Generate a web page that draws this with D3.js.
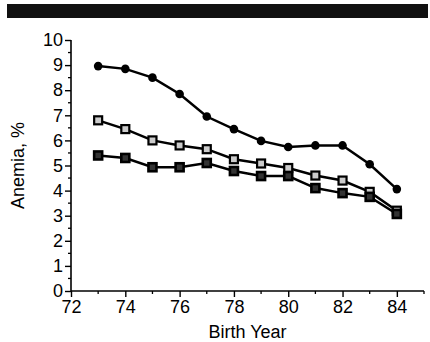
<!DOCTYPE html>
<html>
<head>
<meta charset="utf-8">
<script src="https://cdn.jsdelivr.net/npm/d3@7"></script>
<style>
	body { margin: 0; background: #fff; }
	svg { display: block; font-family: "Liberation Sans", Arial, sans-serif; }
</style>
</head>
<body>
<svg id="plot" width="430" height="342"></svg>
<script>
const YEARS = [73, 74, 75, 76, 77, 78, 79, 80, 81, 82, 83, 84];
const TOP_SERIES = [8.96, 8.85, 8.5, 7.85, 6.95, 6.45, 5.98, 5.74, 5.8, 5.8, 5.05, 4.06];
const OPEN_SERIES = [6.8, 6.45, 6.0, 5.8, 5.65, 5.25, 5.08, 4.9, 4.6, 4.4, 3.95, 3.2];
const FILLED_SERIES = [5.4, 5.3, 4.93, 4.93, 5.1, 4.78, 4.58, 4.58, 4.1, 3.9, 3.75, 3.07];
const X_TICKS = [72, 74, 76, 78, 80, 82, 84];
const Y_TICKS = [0, 1, 2, 3, 4, 5, 6, 7, 8, 9, 10];

function draw() {
	var svg = d3.select('#plot');

	// scanned header bar
	svg.append('rect')
		.attr('x', 7).attr('y', 4).attr('width', 421).attr('height', 14)
		.attr('fill', '#111');

	var x = d3.scaleLinear().domain([72, 85]).range([71, 424]);
	var y = d3.scaleLinear().domain([0, 10]).range([291, 40]);

	// minor ticks
	var minorX = d3.range(73, 86, 2);
	svg.append('g').selectAll('line').data(minorX).enter().append('line')
		.attr('x1', d => x(d)).attr('x2', d => x(d))
		.attr('y1', y(0)).attr('y2', y(0) + 3)
		.attr('stroke', '#000').attr('stroke-width', 1.3);
	var minorY = d3.range(0.5, 10, 1);
	svg.append('g').selectAll('line').data(minorY).enter().append('line')
		.attr('x1', x(72) - 3).attr('x2', x(72))
		.attr('y1', d => y(d)).attr('y2', d => y(d))
		.attr('stroke', '#000').attr('stroke-width', 1.3);

	var xAxis = d3.axisBottom(x).tickValues(X_TICKS).tickSize(6).tickPadding(3);
	var yAxis = d3.axisLeft(y).tickValues(Y_TICKS).tickSize(6).tickPadding(2);

	var gx = svg.append('g')
		.attr('transform', `translate(0, ${y(0)})`)
		.call(xAxis);
	var gy = svg.append('g')
		.attr('transform', `translate(${x(72)}, 0)`)
		.call(yAxis);
	[gx, gy].forEach(g => {
		g.select('.domain').attr('stroke', '#000').attr('stroke-width', 1.6);
		g.selectAll('.tick line').attr('stroke', '#000').attr('stroke-width', 1.4);
		g.selectAll('.tick text').attr('fill', '#000').attr('font-size', 18)
			.attr('font-family', '"Liberation Sans", Arial, sans-serif');
	});
	gx.select('.domain').attr('d', `M${x(72)},0H${x(85)}`);
	gy.select('.domain').attr('d', `M0,${y(10)}V${y(0)}`);

	svg.append('text')
		.attr('x', x(78.5)).attr('y', 338)
		.attr('text-anchor', 'middle').attr('font-size', 18)
		.text('Birth Year');
	svg.append('text')
		.attr('transform', `translate(24, ${y(5)}) rotate(-90)`)
		.attr('text-anchor', 'middle').attr('font-size', 18)
		.text('Anemia, %');

	var line = d3.line().x((d, i) => x(YEARS[i])).y(d => y(d));
	[TOP_SERIES, OPEN_SERIES, FILLED_SERIES].forEach(s => {
		svg.append('path').attr('d', line(s))
			.attr('fill', 'none').attr('stroke', '#000').attr('stroke-width', 2.5);
	});

	// filled dots
	svg.append('g').selectAll('circle').data(TOP_SERIES).enter().append('circle')
		.attr('cx', (d, i) => x(YEARS[i])).attr('cy', d => y(d))
		.attr('r', 4.3).attr('fill', '#000');
	// open squares
	svg.append('g').selectAll('rect').data(OPEN_SERIES).enter().append('rect')
		.attr('x', (d, i) => x(YEARS[i]) - 4).attr('y', d => y(d) - 4)
		.attr('width', 8).attr('height', 8)
		.attr('fill', '#ccc').attr('stroke', '#000').attr('stroke-width', 2.2);
	// filled squares
	svg.append('g').selectAll('rect').data(FILLED_SERIES).enter().append('rect')
		.attr('x', (d, i) => x(YEARS[i]) - 4).attr('y', d => y(d) - 4)
		.attr('width', 8).attr('height', 8)
		.attr('fill', '#333').attr('stroke', '#000').attr('stroke-width', 2.6);
}

draw();
</script>
</body>
</html>
